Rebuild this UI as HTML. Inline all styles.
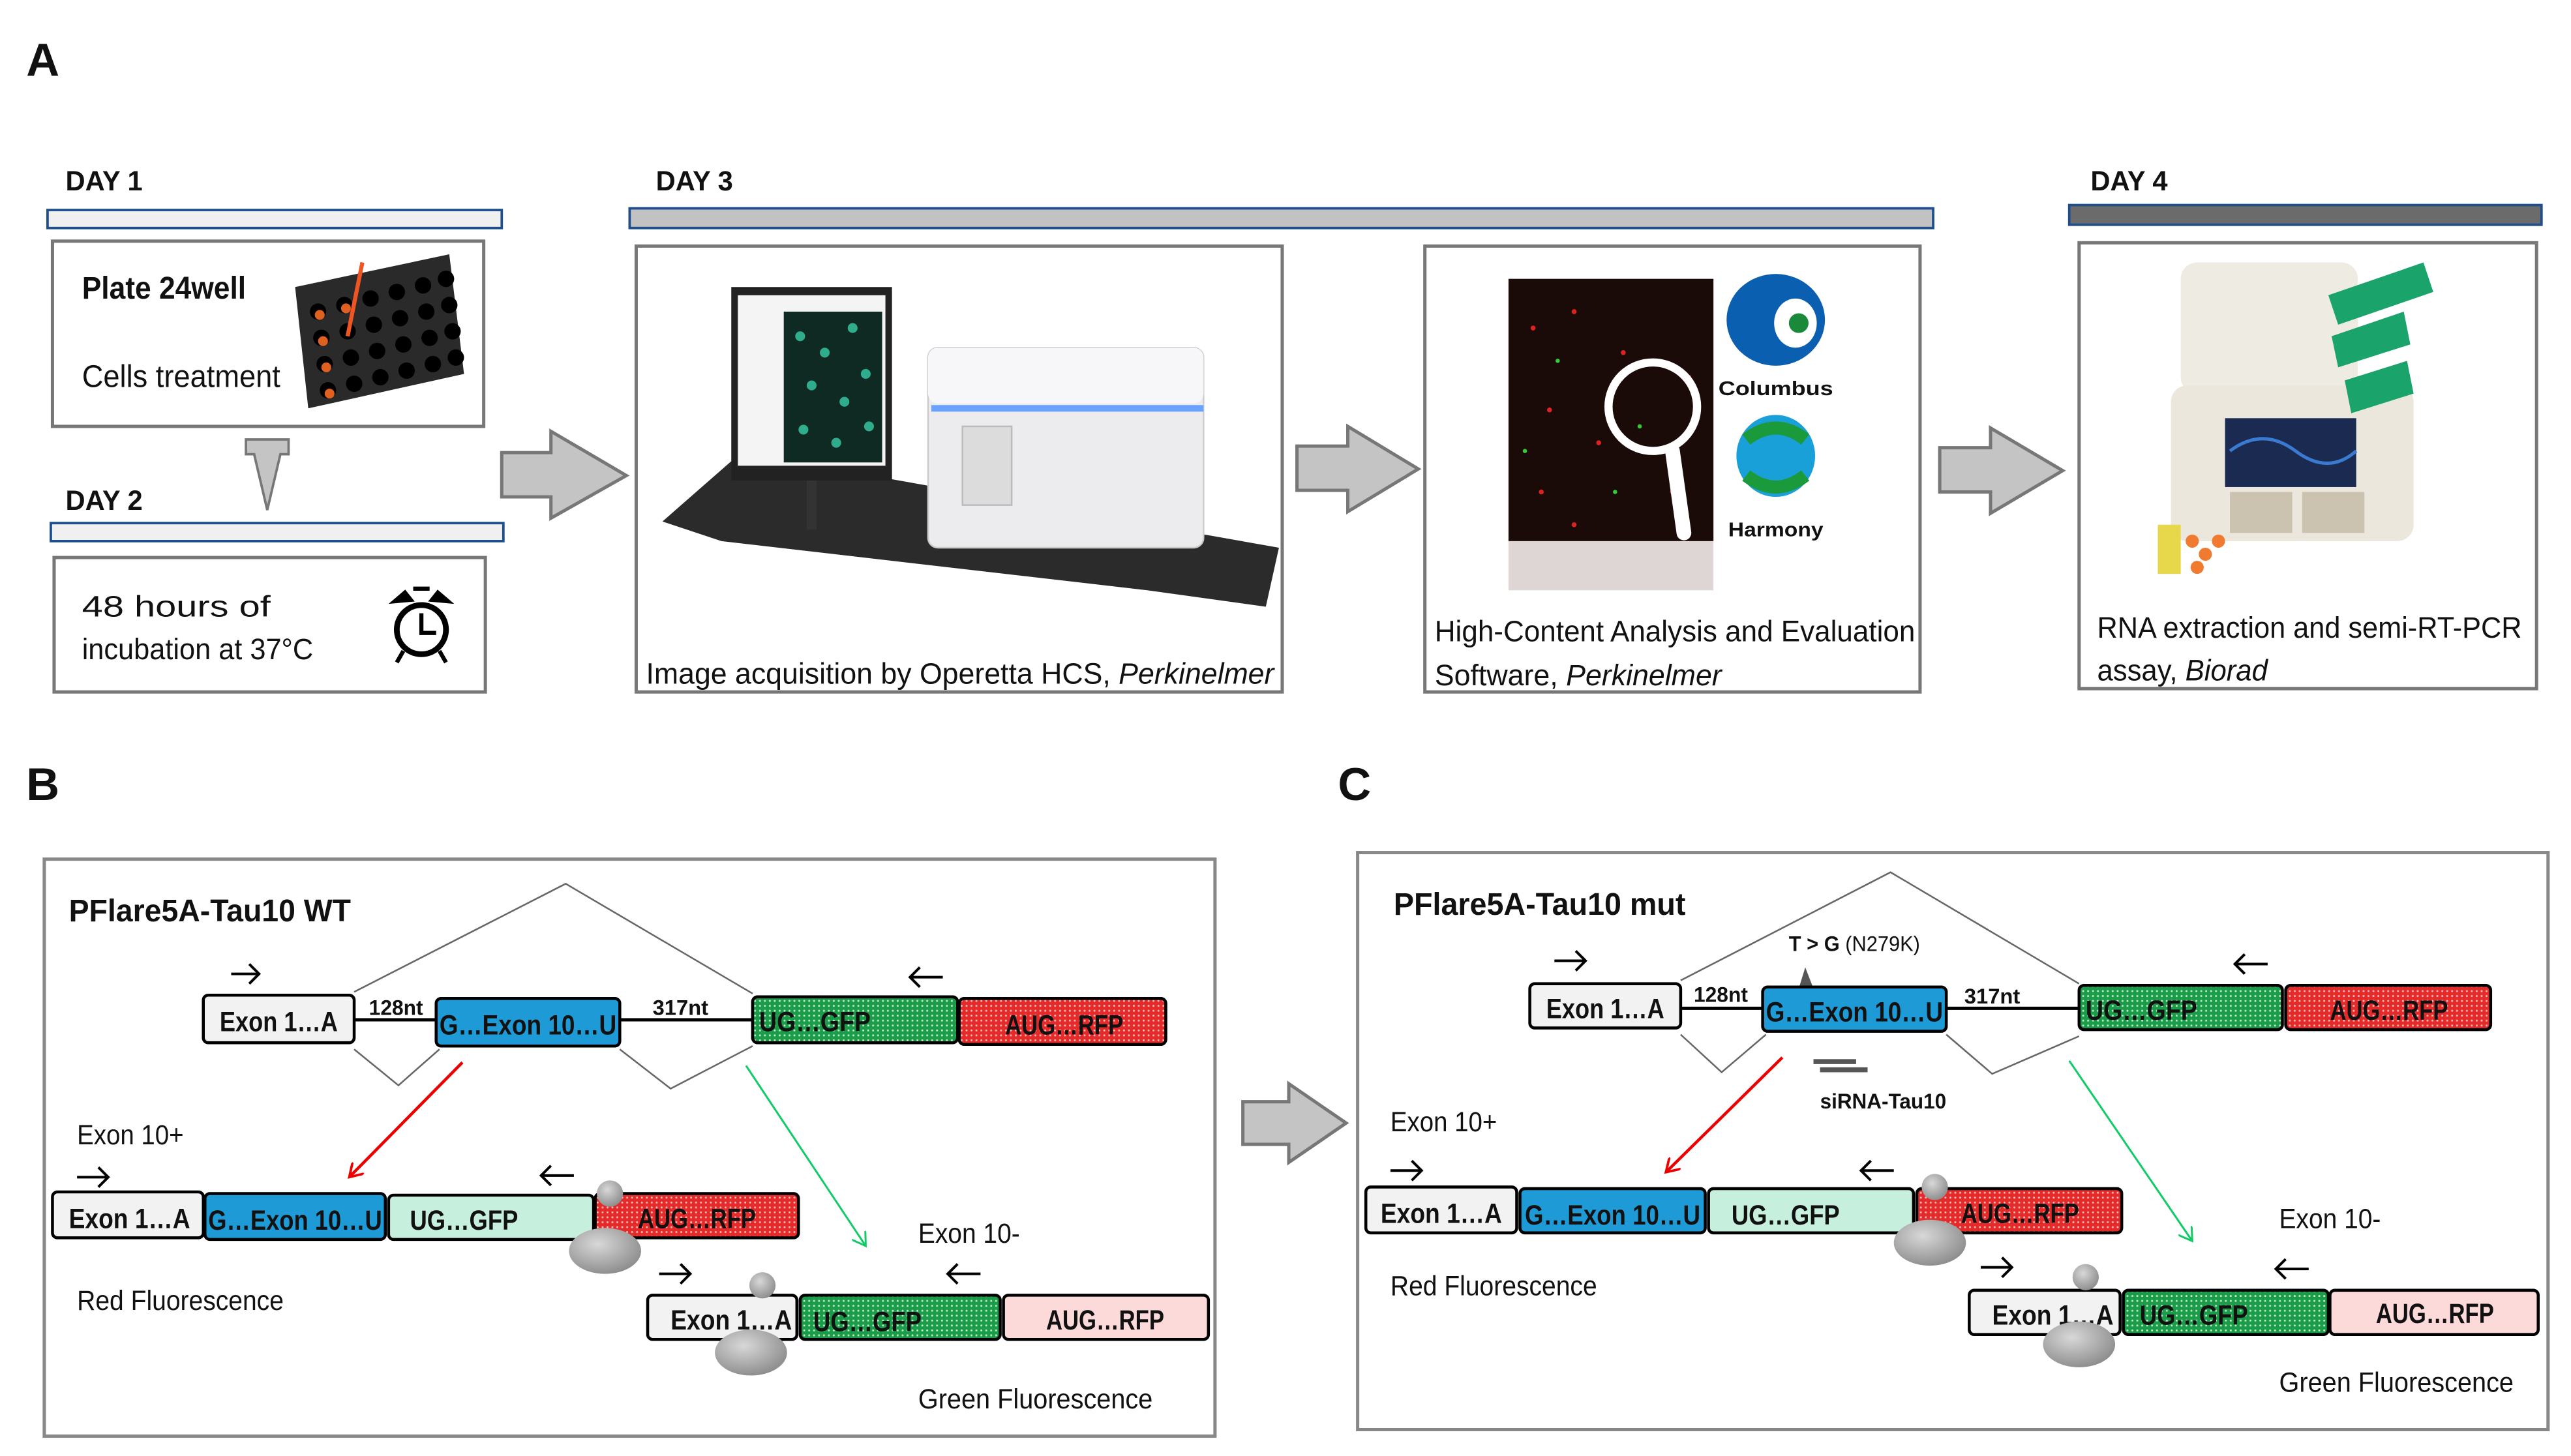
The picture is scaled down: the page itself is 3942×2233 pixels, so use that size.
<!DOCTYPE html>
<html><head><meta charset="utf-8"><style>
html,body{margin:0;padding:0;background:#fff;}
svg{display:block;}
text{font-family:"Liberation Sans Narrow","Liberation Sans",sans-serif;fill:#111;}
.b{font-weight:bold;}
</style></head><body>
<svg width="3942" height="2233" viewBox="0 0 1568 888" xmlns="http://www.w3.org/2000/svg">
<defs>
<pattern id="pg" width="3" height="3" patternUnits="userSpaceOnUse"><rect width="3" height="3" fill="#1a9c48"/><circle cx="1.5" cy="1.5" r="0.6" fill="#bfe8cc"/></pattern>
<pattern id="pr" width="3" height="3" patternUnits="userSpaceOnUse"><rect width="3" height="3" fill="#e52a2a"/><circle cx="1.5" cy="1.5" r="0.6" fill="#f7b8b8"/></pattern>
<radialGradient id="rib" cx="0.4" cy="0.35" r="0.7"><stop offset="0" stop-color="#d8d8d8"/><stop offset="1" stop-color="#8a8a8a"/></radialGradient>
<marker id="ar" markerWidth="10" markerHeight="10" refX="8" refY="5" orient="auto" markerUnits="userSpaceOnUse"><path d="M0,0 L8,5 L0,10" fill="none" stroke="#e00" stroke-width="1.5"/></marker>
<marker id="ag" markerWidth="10" markerHeight="10" refX="8" refY="5" orient="auto" markerUnits="userSpaceOnUse"><path d="M0,0 L8,5 L0,10" fill="none" stroke="#1c6" stroke-width="1.2"/></marker>
</defs>

<!-- Panel A -->
<text x="16" y="46" class="b" font-size="28">A</text>
<text x="40" y="116" class="b" font-size="17" textLength="47" lengthAdjust="spacingAndGlyphs">DAY 1</text>
<rect x="29" y="128" width="277" height="11" fill="#f0f0f0" stroke="#1f4e8c" stroke-width="1.5"/>
<rect x="32" y="147" width="263" height="113" fill="#fff" stroke="#777" stroke-width="2"/>
<text x="50" y="182" class="b" font-size="19" textLength="100" lengthAdjust="spacingAndGlyphs">Plate 24well</text>
<text x="50" y="236" font-size="19" textLength="121" lengthAdjust="spacingAndGlyphs">Cells treatment</text>
<!-- plate -->
<polygon points="180,175 274,155 283,228 188,249" fill="#2a2a2a"/>
<g fill="#000">
<circle cx="194" cy="190" r="5"/><circle cx="210" cy="186" r="5"/><circle cx="226" cy="182" r="5"/><circle cx="242" cy="178" r="5"/><circle cx="258" cy="174" r="5"/><circle cx="272" cy="170" r="5"/>
<circle cx="196" cy="206" r="5"/><circle cx="212" cy="202" r="5"/><circle cx="228" cy="198" r="5"/><circle cx="244" cy="194" r="5"/><circle cx="260" cy="190" r="5"/><circle cx="274" cy="186" r="5"/>
<circle cx="198" cy="222" r="5"/><circle cx="214" cy="218" r="5"/><circle cx="230" cy="214" r="5"/><circle cx="246" cy="210" r="5"/><circle cx="262" cy="206" r="5"/><circle cx="276" cy="202" r="5"/>
<circle cx="200" cy="238" r="5"/><circle cx="216" cy="234" r="5"/><circle cx="232" cy="230" r="5"/><circle cx="248" cy="226" r="5"/><circle cx="264" cy="222" r="5"/><circle cx="278" cy="218" r="5"/>
</g>
<g fill="#e06020"><circle cx="195" cy="192" r="3"/><circle cx="211" cy="188" r="3"/><circle cx="197" cy="208" r="3"/><circle cx="199" cy="224" r="3"/><circle cx="201" cy="240" r="3"/></g>
<line x1="221" y1="160" x2="212" y2="205" stroke="#e52" stroke-width="2.5"/>
<!-- down arrow -->
<polygon points="150,268 176,268 176,277 171,277 163,311 155,277 150,277" fill="#c4c4c4" stroke="#777" stroke-width="1.5"/>
<text x="40" y="311" class="b" font-size="17" textLength="47" lengthAdjust="spacingAndGlyphs">DAY 2</text>
<rect x="31" y="319" width="276" height="11" fill="#f0f0f0" stroke="#1f4e8c" stroke-width="1.5"/>
<rect x="33" y="340" width="263" height="82" fill="#fff" stroke="#777" stroke-width="2"/>
<text x="50" y="376" font-size="18" textLength="115" lengthAdjust="spacingAndGlyphs">48 hours of</text>
<text x="50" y="402" font-size="18" textLength="141" lengthAdjust="spacingAndGlyphs">incubation at 37°C</text>
<!-- clock -->
<circle cx="257" cy="384" r="15" fill="none" stroke="#000" stroke-width="3.5"/>
<polyline points="257,374 257,386 266,386" fill="none" stroke="#000" stroke-width="2.5"/>
<path d="M240,367 l7,-6 l4,5 z M274,367 l-7,-6 l-4,5 z" fill="#000" stroke="#000" stroke-width="2"/>
<line x1="252" y1="359" x2="262" y2="359" stroke="#000" stroke-width="2.5"/>
<line x1="246" y1="397" x2="242" y2="404" stroke="#000" stroke-width="2.5"/><line x1="268" y1="397" x2="272" y2="404" stroke="#000" stroke-width="2.5"/>

<!-- big arrows -->
<polygon points="306,276 336,276 336,263 382,290 336,316 336,303 306,303" fill="#c4c4c4" stroke="#777" stroke-width="2"/>
<polygon points="791,272 822,272 822,260 865,286 822,312 822,299 791,299" fill="#c4c4c4" stroke="#777" stroke-width="2"/>
<polygon points="1183,273 1214,273 1214,261 1258,287 1214,313 1214,300 1183,300" fill="#c4c4c4" stroke="#777" stroke-width="2"/>

<text x="400" y="116" class="b" font-size="17" textLength="47" lengthAdjust="spacingAndGlyphs">DAY 3</text>
<rect x="384" y="127" width="795" height="12" fill="#c2c2c2" stroke="#1f4e8c" stroke-width="1.5"/>
<rect x="388" y="150" width="394" height="272" fill="#fff" stroke="#777" stroke-width="2"/>
<!-- operetta -->
<polygon points="404,318 452,276 780,334 772,370 700,360 440,330" fill="#2b2b2b"/>
<rect x="446" y="175" width="98" height="118" fill="#222"/>
<rect x="450" y="180" width="90" height="104" fill="#f4f4f4"/>
<rect x="478" y="190" width="60" height="92" fill="#0e2a22"/>
<g fill="#3b9" opacity="0.9"><circle cx="488" cy="205" r="3"/><circle cx="503" cy="215" r="3"/><circle cx="520" cy="200" r="3"/><circle cx="495" cy="235" r="3"/><circle cx="515" cy="245" r="3"/><circle cx="528" cy="228" r="3"/><circle cx="490" cy="262" r="3"/><circle cx="510" cy="270" r="3"/><circle cx="530" cy="260" r="3"/></g>
<rect x="492" y="293" width="6" height="30" fill="#333"/>
<rect x="566" y="212" width="168" height="122" rx="6" fill="#ececef" stroke="#ccc"/>
<rect x="566" y="212" width="168" height="34" rx="6" fill="#f7f7fa"/>
<rect x="568" y="247" width="166" height="4" fill="#69a3ff"/>
<rect x="587" y="260" width="30" height="48" fill="#dcdcdc" stroke="#bbb"/>
<text x="394" y="417" font-size="18" textLength="383" lengthAdjust="spacingAndGlyphs">Image acquisition  by Operetta HCS, <tspan font-style="italic">Perkinelmer</tspan></text>

<rect x="869" y="150" width="302" height="272" fill="#fff" stroke="#777" stroke-width="2"/>
<rect x="920" y="170" width="125" height="160" fill="#1a0a08"/>
<rect x="920" y="330" width="125" height="30" fill="#a08a88" opacity="0.35"/>
<g fill="#d22"><circle cx="935" cy="200" r="1.5"/><circle cx="960" cy="190" r="1.5"/><circle cx="990" cy="215" r="1.5"/><circle cx="945" cy="250" r="1.5"/><circle cx="975" cy="270" r="1.5"/><circle cx="1020" cy="300" r="1.5"/><circle cx="940" cy="300" r="1.5"/><circle cx="1030" cy="230" r="1.5"/><circle cx="960" cy="320" r="1.5"/></g>
<g fill="#3c3"><circle cx="950" cy="220" r="1.3"/><circle cx="1000" cy="260" r="1.3"/><circle cx="985" cy="300" r="1.3"/><circle cx="930" cy="275" r="1.3"/></g>
<circle cx="1008" cy="248" r="27" fill="none" stroke="#fff" stroke-width="5"/>
<line x1="1020" y1="275" x2="1027" y2="325" stroke="#fff" stroke-width="9" stroke-linecap="round"/>
<ellipse cx="1083" cy="195" rx="30" ry="28" fill="#0b5fb0"/>
<ellipse cx="1095" cy="197" rx="13" ry="15" fill="#fff"/>
<circle cx="1097" cy="197" r="6" fill="#1a8a3a"/>
<text x="1048" y="241" class="b" font-size="12" textLength="70" lengthAdjust="spacingAndGlyphs">Columbus</text>
<ellipse cx="1083" cy="278" rx="24" ry="25" fill="#1aa0d8"/>
<path d="M1065,268 q18,-14 36,0" fill="none" stroke="#1a9a3a" stroke-width="8"/>
<path d="M1065,290 q18,14 36,0" fill="none" stroke="#1a9a3a" stroke-width="8"/>
<text x="1054" y="327" font-size="12" font-family="Liberation Serif,serif" class="b" textLength="58" lengthAdjust="spacingAndGlyphs">Harmony</text>
<text x="875" y="391" font-size="18" fill="#333" textLength="293" lengthAdjust="spacingAndGlyphs">High-Content Analysis and Evaluation</text>
<text x="875" y="418" font-size="18" fill="#333" textLength="175" lengthAdjust="spacingAndGlyphs">Software, <tspan font-style="italic">Perkinelmer</tspan></text>

<text x="1275" y="116" class="b" font-size="17" textLength="47" lengthAdjust="spacingAndGlyphs">DAY 4</text>
<rect x="1262" y="125" width="288" height="12" fill="#6b6b6b" stroke="#1f4e8c" stroke-width="1.5"/>
<rect x="1268" y="148" width="279" height="272" fill="#fff" stroke="#777" stroke-width="2"/>
<!-- PCR -->
<rect x="1330" y="160" width="108" height="80" rx="10" fill="#eeebe2"/>
<rect x="1324" y="235" width="148" height="95" rx="10" fill="#ebe7dc"/>
<rect x="1357" y="255" width="80" height="42" fill="#1a2a50"/>
<path d="M1360,275 q20,-15 40,0 t37,0" stroke="#3a7ad0" fill="none" stroke-width="2"/>
<rect x="1360" y="300" width="38" height="25" fill="#cbc3b0"/><rect x="1404" y="300" width="38" height="25" fill="#cbc3b0"/>
<g fill="#1aa36a"><polygon points="1420,180 1478,160 1484,178 1426,198"/><polygon points="1422,205 1466,190 1470,210 1426,224"/><polygon points="1430,232 1468,220 1472,240 1434,252"/></g>
<rect x="1316" y="320" width="14" height="30" fill="#e6d84a"/>
<g fill="#f07a30"><circle cx="1337" cy="330" r="4"/><circle cx="1345" cy="338" r="4"/><circle cx="1353" cy="330" r="4"/><circle cx="1340" cy="346" r="4"/></g>
<text x="1279" y="389" font-size="18" textLength="259" lengthAdjust="spacingAndGlyphs">RNA extraction and semi-RT-PCR</text>
<text x="1279" y="415" font-size="18" textLength="104" lengthAdjust="spacingAndGlyphs">assay, <tspan font-style="italic">Biorad</tspan></text>

<!-- Panel B -->
<text x="16" y="488" class="b" font-size="28">B</text>
<rect x="27" y="524" width="714" height="352" fill="#fff" stroke="#888" stroke-width="2"/>
<text x="42" y="562" class="b" font-size="19" textLength="172" lengthAdjust="spacingAndGlyphs">PFlare5A-Tau10 WT</text>
<g fill="none" stroke="#666" stroke-width="1">
<polyline points="216,605 345,539 459,606"/>
<polyline points="216,640 243,662 268,640"/>
<polyline points="378,640 409,664 459,638"/>
</g>
<line x1="216" y1="622" x2="266" y2="622" stroke="#000" stroke-width="2"/>
<line x1="378" y1="622" x2="459" y2="622" stroke="#000" stroke-width="2"/>
<text x="225" y="619" class="b" font-size="13" textLength="33" lengthAdjust="spacingAndGlyphs">128nt</text>
<text x="398" y="619" class="b" font-size="13" textLength="34" lengthAdjust="spacingAndGlyphs">317nt</text>
<g stroke="#000" stroke-width="1.8">
<rect x="124" y="607" width="92" height="29" rx="3" fill="#f2f2f2"/>
<rect x="266" y="609" width="112" height="29" rx="3" fill="#1e9ad6"/>
<rect x="459" y="608" width="125" height="28" rx="3" fill="url(#pg)"/>
<rect x="585" y="609" width="126" height="28" rx="3" fill="url(#pr)"/>
</g>
<text x="134" y="629" class="b" font-size="17" textLength="72" lengthAdjust="spacingAndGlyphs">Exon 1…A</text>
<text x="268" y="631" class="b" font-size="17" textLength="108" lengthAdjust="spacingAndGlyphs">G…Exon 10…U</text>
<text x="463" y="629" class="b" font-size="17" textLength="68" lengthAdjust="spacingAndGlyphs">UG…GFP</text>
<text x="613" y="631" class="b" font-size="17" textLength="72" lengthAdjust="spacingAndGlyphs">AUG…RFP</text>
<g stroke="#000" stroke-width="1.6" fill="none">
<path d="M141,594 H158 M152,588 L158,594 L152,600"/>
<path d="M575,596 H555 M561,590 L555,596 L561,602"/>
<path d="M47,718 H66 M60,712 L66,718 L60,724"/>
<path d="M350,717 H330 M336,711 L330,717 L336,723"/>
<path d="M402,777 H421 M415,771 L421,777 L415,783"/>
<path d="M598,777 H578 M584,771 L578,777 L584,783"/>
</g>
<line x1="282" y1="648" x2="213" y2="718" stroke="#e00" stroke-width="1.8" marker-end="url(#ar)"/>
<line x1="455" y1="650" x2="528" y2="760" stroke="#1c6" stroke-width="1.2" marker-end="url(#ag)"/>
<text x="47" y="698" font-size="17" textLength="65" lengthAdjust="spacingAndGlyphs">Exon 10+</text>
<g stroke="#000" stroke-width="1.8">
<rect x="32" y="727" width="92" height="28" rx="3" fill="#f2f2f2"/>
<rect x="125" y="728" width="110" height="28" rx="3" fill="#1e9ad6"/>
<rect x="237" y="729" width="125" height="27" rx="3" fill="#c6efde"/>
<rect x="363" y="728" width="124" height="27" rx="3" fill="url(#pr)"/>
</g>
<text x="42" y="749" class="b" font-size="17" textLength="74" lengthAdjust="spacingAndGlyphs">Exon 1…A</text>
<text x="127" y="750" class="b" font-size="17" textLength="106" lengthAdjust="spacingAndGlyphs">G…Exon 10…U</text>
<text x="250" y="750" class="b" font-size="17" textLength="66" lengthAdjust="spacingAndGlyphs">UG…GFP</text>
<text x="389" y="749" class="b" font-size="17" textLength="72" lengthAdjust="spacingAndGlyphs">AUG…RFP</text>
<circle cx="372" cy="728" r="8" fill="url(#rib)"/>
<ellipse cx="369" cy="763" rx="22" ry="14" fill="url(#rib)"/>
<text x="47" y="799" font-size="17" textLength="126" lengthAdjust="spacingAndGlyphs">Red Fluorescence</text>
<text x="560" y="758" font-size="17" textLength="62" lengthAdjust="spacingAndGlyphs">Exon 10-</text>
<g stroke="#000" stroke-width="1.8">
<rect x="395" y="790" width="91" height="27" rx="3" fill="#f2f2f2"/>
<rect x="488" y="790" width="122" height="27" rx="3" fill="url(#pg)"/>
<rect x="612" y="790" width="125" height="27" rx="3" fill="#fddada"/>
</g>
<text x="409" y="811" class="b" font-size="17" textLength="74" lengthAdjust="spacingAndGlyphs">Exon 1…A</text>
<text x="496" y="812" class="b" font-size="17" textLength="66" lengthAdjust="spacingAndGlyphs">UG…GFP</text>
<text x="638" y="811" class="b" font-size="17" textLength="72" lengthAdjust="spacingAndGlyphs">AUG…RFP</text>
<circle cx="465" cy="784" r="8" fill="url(#rib)"/>
<ellipse cx="458" cy="825" rx="22" ry="14" fill="url(#rib)"/>
<text x="560" y="859" font-size="17" textLength="143" lengthAdjust="spacingAndGlyphs">Green Fluorescence</text>

<!-- middle arrow -->
<polygon points="758,672 786,672 786,661 821,685 786,709 786,698 758,698" fill="#c4c4c4" stroke="#777" stroke-width="2"/>

<!-- Panel C -->
<text x="816" y="488" class="b" font-size="28">C</text>
<rect x="828" y="520" width="726" height="352" fill="#fff" stroke="#888" stroke-width="2"/>
<text x="850" y="558" class="b" font-size="19" textLength="178" lengthAdjust="spacingAndGlyphs">PFlare5A-Tau10 mut</text>
<g fill="none" stroke="#666" stroke-width="1">
<polyline points="1025,598 1153,532 1268,600"/>
<polyline points="1025,631 1050,654 1077,631"/>
<polyline points="1187,631 1215,655 1268,632"/>
</g>
<line x1="1025" y1="615" x2="1075" y2="615" stroke="#000" stroke-width="2"/>
<line x1="1187" y1="615" x2="1268" y2="615" stroke="#000" stroke-width="2"/>
<text x="1033" y="611" class="b" font-size="13" textLength="33" lengthAdjust="spacingAndGlyphs">128nt</text>
<text x="1198" y="612" class="b" font-size="13" textLength="34" lengthAdjust="spacingAndGlyphs">317nt</text>
<text x="1091" y="580" class="b" font-size="13" textLength="80" lengthAdjust="spacingAndGlyphs">T &gt; G <tspan font-weight="normal">(N279K)</tspan></text>
<polygon points="1097,603 1101,590 1106,603" fill="#555"/>
<g stroke="#000" stroke-width="1.8">
<rect x="933" y="600" width="92" height="27" rx="3" fill="#f2f2f2"/>
<rect x="1075" y="602" width="112" height="27" rx="3" fill="#1e9ad6"/>
<rect x="1268" y="601" width="124" height="27" rx="3" fill="url(#pg)"/>
<rect x="1394" y="601" width="125" height="27" rx="3" fill="url(#pr)"/>
</g>
<text x="943" y="621" class="b" font-size="17" textLength="72" lengthAdjust="spacingAndGlyphs">Exon 1…A</text>
<text x="1077" y="623" class="b" font-size="17" textLength="108" lengthAdjust="spacingAndGlyphs">G…Exon 10…U</text>
<text x="1272" y="622" class="b" font-size="17" textLength="68" lengthAdjust="spacingAndGlyphs">UG…GFP</text>
<text x="1421" y="622" class="b" font-size="17" textLength="72" lengthAdjust="spacingAndGlyphs">AUG…RFP</text>
<rect x="1106" y="646" width="26" height="3" fill="#555"/>
<rect x="1110" y="651" width="29" height="3" fill="#555"/>
<text x="1110" y="676" class="b" font-size="13" textLength="77" lengthAdjust="spacingAndGlyphs">siRNA-Tau10</text>
<g stroke="#000" stroke-width="1.6" fill="none">
<path d="M948,586 H967 M961,580 L967,586 L961,592"/>
<path d="M1383,588 H1363 M1369,582 L1363,588 L1369,594"/>
<path d="M848,714 H867 M861,708 L867,714 L861,720"/>
<path d="M1155,714 H1135 M1141,708 L1135,714 L1141,720"/>
<path d="M1208,773 H1227 M1221,767 L1227,773 L1221,779"/>
<path d="M1408,774 H1388 M1394,768 L1388,774 L1394,780"/>
</g>
<line x1="1087" y1="645" x2="1016" y2="715" stroke="#e00" stroke-width="1.8" marker-end="url(#ar)"/>
<line x1="1262" y1="647" x2="1337" y2="757" stroke="#1c6" stroke-width="1.2" marker-end="url(#ag)"/>
<text x="848" y="690" font-size="17" textLength="65" lengthAdjust="spacingAndGlyphs">Exon 10+</text>
<g stroke="#000" stroke-width="1.8">
<rect x="833" y="724" width="92" height="28" rx="3" fill="#f2f2f2"/>
<rect x="927" y="725" width="113" height="27" rx="3" fill="#1e9ad6"/>
<rect x="1042" y="725" width="125" height="27" rx="3" fill="#c6efde"/>
<rect x="1169" y="725" width="125" height="27" rx="3" fill="url(#pr)"/>
</g>
<text x="842" y="746" class="b" font-size="17" textLength="74" lengthAdjust="spacingAndGlyphs">Exon 1…A</text>
<text x="930" y="747" class="b" font-size="17" textLength="107" lengthAdjust="spacingAndGlyphs">G…Exon 10…U</text>
<text x="1056" y="747" class="b" font-size="17" textLength="66" lengthAdjust="spacingAndGlyphs">UG…GFP</text>
<text x="1196" y="746" class="b" font-size="17" textLength="72" lengthAdjust="spacingAndGlyphs">AUG…RFP</text>
<circle cx="1180" cy="724" r="8" fill="url(#rib)"/>
<ellipse cx="1177" cy="758" rx="22" ry="14" fill="url(#rib)"/>
<text x="848" y="790" font-size="17" textLength="126" lengthAdjust="spacingAndGlyphs">Red Fluorescence</text>
<text x="1390" y="749" font-size="17" textLength="62" lengthAdjust="spacingAndGlyphs">Exon 10-</text>
<g stroke="#000" stroke-width="1.8">
<rect x="1201" y="787" width="92" height="27" rx="3" fill="#f2f2f2"/>
<rect x="1295" y="787" width="125" height="27" rx="3" fill="url(#pg)"/>
<rect x="1421" y="787" width="127" height="27" rx="3" fill="#fddada"/>
</g>
<text x="1215" y="808" class="b" font-size="17" textLength="74" lengthAdjust="spacingAndGlyphs">Exon 1…A</text>
<text x="1305" y="808" class="b" font-size="17" textLength="66" lengthAdjust="spacingAndGlyphs">UG…GFP</text>
<text x="1449" y="807" class="b" font-size="17" textLength="72" lengthAdjust="spacingAndGlyphs">AUG…RFP</text>
<circle cx="1272" cy="779" r="8" fill="url(#rib)"/>
<ellipse cx="1268" cy="820" rx="22" ry="14" fill="url(#rib)"/>
<text x="1390" y="849" font-size="17" textLength="143" lengthAdjust="spacingAndGlyphs">Green Fluorescence</text>
</svg>
</body></html>
